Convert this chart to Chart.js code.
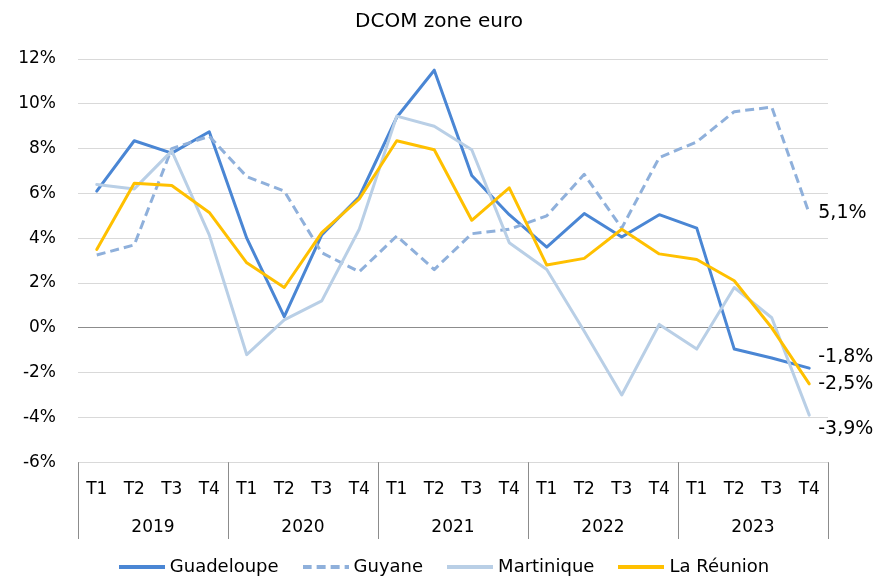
<!DOCTYPE html>
<html>
<head>
<meta charset="utf-8">
<script src="https://cdn.jsdelivr.net/npm/chart.js@4/dist/chart.umd.min.js"></script>
<style>
  html, body { margin: 0; padding: 0; background: #fff; }
  #wrap { width: 877px; height: 580px; position: relative; }
</style>
</head>
<body>
<div id="wrap"><canvas id="c" width="877" height="580"></canvas></div>
<script>
// ---- data ----
const quarters = ['T1','T2','T3','T4','T1','T2','T3','T4','T1','T2','T3','T4','T1','T2','T3','T4','T1','T2','T3','T4'];
const years = ['2019','2020','2021','2022','2023'];
const guadeloupe = [6.1, 8.35, 7.8, 8.75, 4.0, 0.5, 4.15, 5.85, 9.4, 11.5, 6.8, 5.05, 3.6, 5.1, 4.05, 5.05, 4.45, -0.95, -1.35, -1.8];
const guyane     = [3.25, 3.7, 8.0, 8.55, 6.75, 6.1, 3.35, 2.5, 4.1, 2.6, 4.2, 4.4, 5.0, 6.85, 4.45, 7.6, 8.3, 9.65, 9.85, 5.1];
const martinique = [6.4, 6.2, 7.9, 4.15, -1.2, 0.35, 1.2, 4.4, 9.45, 9.0, 7.95, 3.8, 2.6, -0.15, -3.0, 0.15, -0.95, 1.8, 0.45, -3.9];
const reunion    = [3.5, 6.45, 6.35, 5.15, 2.9, 1.8, 4.25, 5.75, 8.35, 7.95, 4.8, 6.25, 2.8, 3.1, 4.4, 3.3, 3.05, 2.1, 0.0, -2.5];
const seriesNames = ['Guadeloupe', 'Guyane', 'Martinique', 'La Réunion'];
const title = 'DCOM zone euro';

// ---- style ----
const FONT = '"DejaVu Sans", sans-serif';
const colors = ['#4a86d4', '#8fb0db', '#b9cfe6', '#ffc000'];
const dashes = [[], [9, 5], [], []];
const labelNudge = [-11, 0, 14, 0]; // vertical nudge of end labels (px) to avoid overlap

const fmt = v => v.toFixed(1).replace('.', ',') + '%';

// legend line samples drawn as small images
function lineSample(color, dash) {
  const c = document.createElement('canvas');
  c.width = 46; c.height = 4;
  const g = c.getContext('2d');
  g.strokeStyle = color;
  g.lineWidth = 4;
  g.setLineDash(dash);
  g.beginPath();
  g.moveTo(0, 2);
  g.lineTo(46, 2);
  g.stroke();
  return c;
}

const endLabels = {
  id: 'endLabels',
  afterDatasetsDraw(chart) {
    const ctx = chart.ctx;
    ctx.save();
    ctx.font = '19px ' + FONT;
    ctx.fillStyle = '#000';
    ctx.textAlign = 'left';
    ctx.textBaseline = 'middle';
    chart.data.datasets.forEach((ds, i) => {
      const meta = chart.getDatasetMeta(i);
      const last = meta.data[meta.data.length - 1];
      const v = ds.data[ds.data.length - 1];
      ctx.fillText(fmt(v), last.x + 9, last.y + labelNudge[i]);
    });
    ctx.restore();
  }
};

const groupSeparators = {
  id: 'groupSeparators',
  afterDraw(chart) {
    const x = chart.scales.x, x2 = chart.scales.x2;
    const ctx = chart.ctx;
    const top = chart.chartArea.bottom;
    const bottom = x2.bottom;
    const xs = [chart.chartArea.left];
    for (let k = 4; k < quarters.length; k += 4) {
      xs.push((x.getPixelForValue(k - 1) + x.getPixelForValue(k)) / 2);
    }
    xs.push(chart.chartArea.right);
    ctx.save();
    ctx.strokeStyle = '#8c8c8c';
    ctx.lineWidth = 1;
    xs.forEach(px => {
      const p = Math.round(px) + 0.5;
      ctx.beginPath();
      ctx.moveTo(p, top);
      ctx.lineTo(p, bottom);
      ctx.stroke();
    });
    ctx.restore();
  }
};

// centre title and legend on the full page like the reference
const recenter = {
  id: 'recenter',
  afterLayout(chart) {
    if (chart.legend) {
      chart.legend.left += 24; chart.legend.right += 24;
      chart.legend.top -= 9; chart.legend.bottom -= 9;
    }
    if (chart.titleBlock) { chart.titleBlock.left += 17; chart.titleBlock.right += 17; }
  }
};

const dataSets = [guadeloupe, guyane, martinique, reunion];
const datasets = dataSets.map((d, i) => ({
  label: seriesNames[i],
  data: d,
  borderColor: colors[i],
  backgroundColor: colors[i],
  borderWidth: 3,
  borderDash: dashes[i],
  borderJoinStyle: 'round',
  borderCapStyle: i === 1 ? 'butt' : 'round',
  pointRadius: 0,
  pointHoverRadius: 0,
  pointStyle: lineSample(colors[i], dashes[i]),
  tension: 0,
  fill: false,
  order: 4 - i,
  xAxisID: 'x',
  yAxisID: 'y'
}));

new Chart(document.getElementById('c'), {
  type: 'line',
  data: { labels: quarters, datasets },
  plugins: [endLabels, groupSeparators, recenter],
  options: {
    responsive: false,
    animation: false,
    devicePixelRatio: 1,
    layout: { padding: { left: 16, right: 49, top: 4, bottom: -15 } },
    plugins: {
      title: {
        display: true,
        text: title,
        color: '#000',
        font: { family: FONT, size: 20, weight: 'normal' },
        padding: { top: 6, bottom: 25 }
      },
      legend: {
        display: true,
        position: 'bottom',
        labels: {
          color: '#000',
          font: { family: FONT, size: 18 },
          usePointStyle: true,
          pointStyleWidth: 38,
          boxHeight: 18,
          padding: 28,
          sort: (a, b) => a.datasetIndex - b.datasetIndex
        }
      },
      tooltip: { enabled: false }
    },
    scales: {
      x: {
        type: 'category',
        position: 'bottom',
        offset: true,
        grid: { display: false, drawTicks: false },
        border: { display: false },
        ticks: {
          color: '#000',
          font: { family: FONT, size: 17 },
          padding: 17,
          maxRotation: 0,
          autoSkip: false
        }
      },
      x2: {
        type: 'category',
        labels: years,
        position: 'bottom',
        offset: true,
        grid: { display: false, drawTicks: false },
        border: { display: false },
        ticks: {
          color: '#000',
          font: { family: FONT, size: 17 },
          padding: 1,
          maxRotation: 0,
          autoSkip: false
        }
      },
      y: {
        min: -6,
        max: 12,
        afterFit: s => { s.width = 62; },
        grid: {
          drawTicks: false,
          color: c => c.tick && c.tick.value === 0 ? '#8c8c8c' : '#d9d9d9',
          lineWidth: 1
        },
        border: { display: false },
        ticks: {
          stepSize: 2,
          color: '#000',
          font: { family: FONT, size: 17 },
          padding: 22,
          callback: v => v + '%'
        }
      }
    }
  }
});
</script>
</body>
</html>
